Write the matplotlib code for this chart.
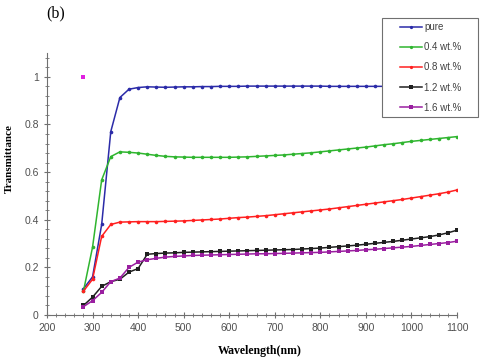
import numpy as np
import matplotlib.pyplot as plt
from matplotlib.patches import Rectangle
from matplotlib.ticker import MultipleLocator

# wavelength grid (nm), every 20 nm from 280 to 1100
wl = np.arange(280, 1101, 20)

pure = [0.11, 0.16, 0.38, 0.77, 0.913, 0.948, 0.955, 0.958, 0.957, 0.956,
        0.957, 0.958, 0.958, 0.959, 0.959, 0.960, 0.960, 0.960, 0.961, 0.961,
        0.961, 0.961, 0.961, 0.961, 0.961, 0.961, 0.961, 0.960, 0.960, 0.960,
        0.960, 0.960, 0.960, 0.960, 0.960, 0.960, 0.960, 0.960, 0.960, 0.960,
        0.960, 0.960]
wt04 = [0.10, 0.285, 0.567, 0.665, 0.685, 0.683, 0.680, 0.675, 0.670, 0.666,
        0.664, 0.663, 0.662, 0.662, 0.662, 0.662, 0.662, 0.663, 0.664, 0.666,
        0.668, 0.670, 0.672, 0.675, 0.678, 0.681, 0.685, 0.689, 0.693, 0.697,
        0.701, 0.705, 0.710, 0.715, 0.719, 0.724, 0.729, 0.733, 0.737, 0.741,
        0.745, 0.749]
wt08 = [0.10, 0.15, 0.33, 0.38, 0.39, 0.391, 0.392, 0.392, 0.392, 0.393,
        0.394, 0.395, 0.397, 0.399, 0.401, 0.403, 0.406, 0.409, 0.411, 0.414,
        0.417, 0.421, 0.425, 0.429, 0.433, 0.437, 0.441, 0.445, 0.450, 0.455,
        0.460, 0.465, 0.470, 0.475, 0.480, 0.485, 0.491, 0.497, 0.503, 0.509,
        0.516, 0.525]
wt12 = [0.04, 0.075, 0.12, 0.14, 0.15, 0.18, 0.195, 0.255, 0.258, 0.260,
        0.261, 0.263, 0.264, 0.265, 0.266, 0.267, 0.268, 0.269, 0.270, 0.271,
        0.272, 0.273, 0.274, 0.275, 0.277, 0.279, 0.281, 0.284, 0.287, 0.290,
        0.293, 0.297, 0.301, 0.305, 0.309, 0.314, 0.319, 0.324, 0.329, 0.336,
        0.345, 0.356]
wt16 = [0.035, 0.06, 0.095, 0.14, 0.155, 0.20, 0.222, 0.232, 0.238, 0.243,
        0.246, 0.248, 0.250, 0.251, 0.252, 0.253, 0.254, 0.255, 0.256, 0.257,
        0.257, 0.258, 0.259, 0.260, 0.261, 0.262, 0.263, 0.265, 0.267, 0.269,
        0.271, 0.274, 0.276, 0.279, 0.282, 0.285, 0.288, 0.292, 0.296, 0.300,
        0.304, 0.310]

labels = ['pure', '0.4 wt.%', '0.8 wt.%', '1.2 wt.%', '1.6 wt.%']
colors = ['#2b2ba8', '#2fb52f', '#ff2020', '#202020', '#9a1fa0']
markers = ['o', 'o', 'o', 's', 's']
series = [pure, wt04, wt08, wt12, wt16]

# stray point at (280, 1.0)
stray_x = [280]
stray_y = [1.0]

W, H = 480, 362
fig = plt.figure(figsize=(W / 100, H / 100), dpi=100)
ax = fig.add_axes([47 / W, 1 - 315 / H, 410 / W, 262 / H])

for y, lab, c, m in zip(series, labels, colors, markers):
    ax.plot(wl, y, color=c, lw=1.1, marker=m, markersize=2.6,
            markeredgewidth=0, label=lab)
ax.plot(stray_x, stray_y, ls='none', marker='s', markersize=2.5,
        color='#e020e0', markeredgewidth=0)

ax.set_xlim(200, 1100)
ax.set_ylim(0, 1.1)
ax.xaxis.set_major_locator(MultipleLocator(100))
ax.xaxis.set_minor_locator(MultipleLocator(20))
ax.yaxis.set_minor_locator(MultipleLocator(0.04))
ax.set_yticks([0, 0.2, 0.4, 0.6, 0.8, 1.0])
ax.set_yticklabels(['0', '0.2', '0.4', '0.6', '0.8', '1'])

for s in ['top', 'right']:
    ax.spines[s].set_visible(False)
for s in ['left', 'bottom']:
    ax.spines[s].set_color('#707070')
    ax.spines[s].set_linewidth(0.8)

ax.tick_params(axis='both', which='major', direction='inout', length=5,
               color='#707070', labelsize=7.5, labelcolor='#505050', width=0.8)
ax.tick_params(axis='both', which='minor', direction='inout', length=3,
               color='#707070', width=0.6)
for t in ax.get_xticklabels() + ax.get_yticklabels():
    t.set_family('Liberation Sans')

# axis titles placed where the reference has them
fig.text(260 / W, 1 - 351 / H, 'Wavelength(nm)', family='Liberation Serif',
         fontweight='bold', fontsize=8.5, ha='center', va='center')
fig.text(9 / W, 1 - 159 / H, 'Transmittance', family='Liberation Serif',
         fontweight='bold', fontsize=8, ha='center', va='center', rotation=90)

fig.text(56 / W, 1 - 13 / H, '(b)', family='Liberation Serif', fontsize=11.5,
         va='center', ha='center')

# legend frame (drawn separately so the box can be wider than its contents)
frame = Rectangle((382 / W, 1 - 117 / H), 96 / W, 99 / H, transform=fig.transFigure,
                  facecolor='white', edgecolor='#707070', lw=0.8, zorder=5)
fig.add_artist(frame)
leg = fig.legend(*ax.get_legend_handles_labels(), loc='upper left',
                 bbox_to_anchor=(398 / W, 1 - 20 / H), frameon=False,
                 prop={'family': 'Liberation Sans', 'size': 7},
                 handlelength=2.3, labelspacing=1.05, borderpad=0.2,
                 handletextpad=0.2, borderaxespad=0, markerscale=0.9)
leg.set_zorder(6)
for t in leg.get_texts():
    t.set_color('#404040')

fig.savefig('out.png', dpi=100)
